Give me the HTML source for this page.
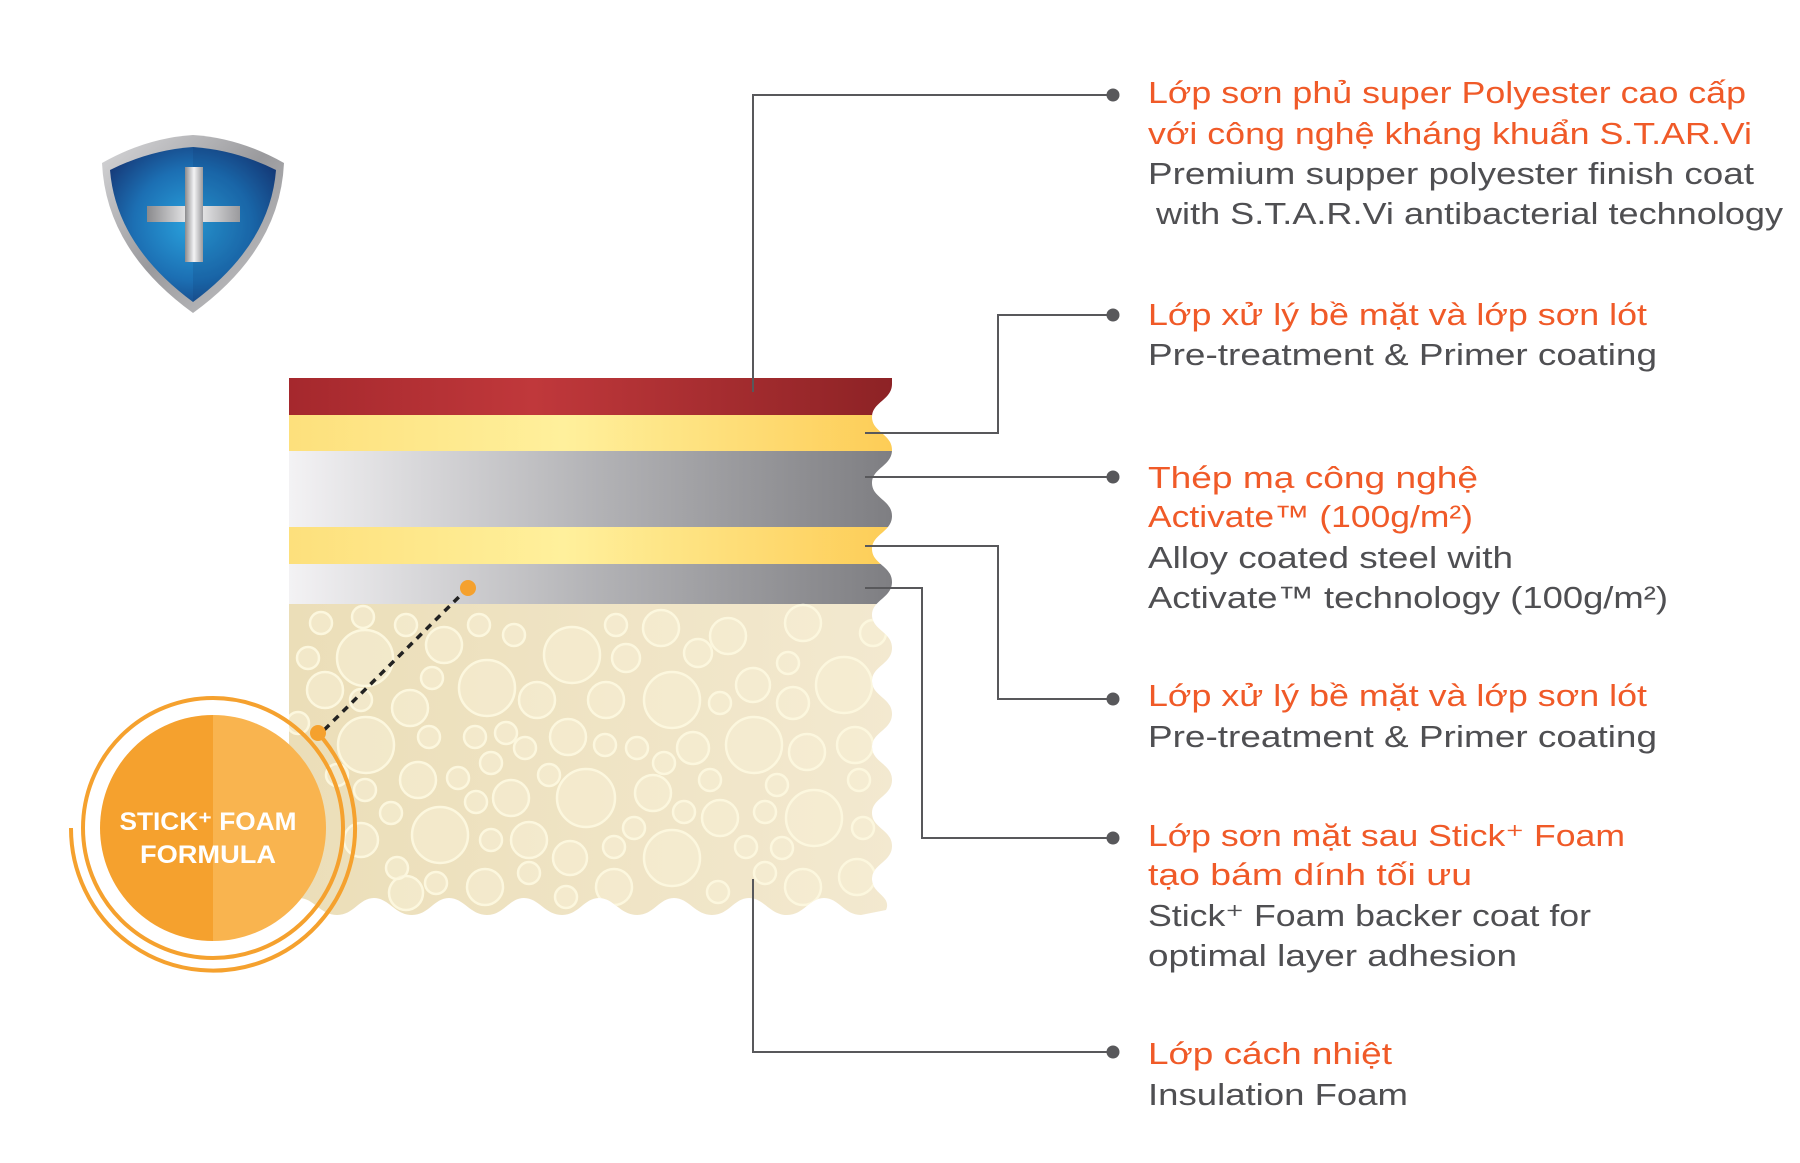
<!DOCTYPE html>
<html><head><meta charset="utf-8"><style>
html,body{margin:0;padding:0;background:#fff;}
svg{display:block;}
.o{fill:#f05a28;font-family:"Liberation Sans",sans-serif;font-size:31px;}
.g{fill:#4f4f52;font-family:"Liberation Sans",sans-serif;font-size:31px;}
</style></head><body>
<svg width="1800" height="1163" viewBox="0 0 1800 1163" xmlns="http://www.w3.org/2000/svg">
<defs>
<linearGradient id="red" x1="0" x2="1"><stop offset="0" stop-color="#a5282d"/><stop offset="0.4" stop-color="#c0383b"/><stop offset="1" stop-color="#8c2225"/></linearGradient>
<linearGradient id="yel" x1="0" x2="1"><stop offset="0" stop-color="#fde07c"/><stop offset="0.45" stop-color="#fff09c"/><stop offset="1" stop-color="#fdcc55"/></linearGradient>
<linearGradient id="gry" x1="0" x2="1"><stop offset="0" stop-color="#f3f2f4"/><stop offset="0.5" stop-color="#b3b3b6"/><stop offset="1" stop-color="#7d7d81"/></linearGradient>
<linearGradient id="foam" x1="0" x2="1"><stop offset="0" stop-color="#ebdeb8"/><stop offset="1" stop-color="#f3e9d0"/></linearGradient>
<radialGradient id="blue" cx="0.5" cy="0.5" r="0.6"><stop offset="0" stop-color="#2aa3de"/><stop offset="0.6" stop-color="#1c6fb3"/><stop offset="1" stop-color="#163d7c"/></radialGradient>
<linearGradient id="rim" x1="0" x2="1" y1="0" y2="1"><stop offset="0" stop-color="#d8d8da"/><stop offset="0.5" stop-color="#9a9a9d"/><stop offset="1" stop-color="#c8c8ca"/></linearGradient>
<linearGradient id="crs" x1="0" x2="1"><stop offset="0" stop-color="#8a8a8d"/><stop offset="0.5" stop-color="#f4f4f5"/><stop offset="1" stop-color="#9a9a9d"/></linearGradient>
<clipPath id="panel">
<path d="M289,378 L892,378 L892,384
C892,400 872,402 872,417 C872,432 892,434 892,450
C892,466 872,468 872,483 C872,498 892,500 892,516
C892,532 872,534 872,549 C872,564 892,566 892,582
C892,598 872,600 872,615 C872,630 892,632 892,648
C892,664 872,666 872,681 C872,696 892,698 892,714
C892,730 872,732 872,747 C872,762 892,764 892,780
C892,796 872,798 872,813 C872,828 892,830 892,846
C892,862 872,864 872,879 C872,894 892,896 886,910
L861,915 C844,915 839,898 824,898 C809,898 804,915 787,915
C770,915 764,898 749,898 C734,898 729,915 712,915
C695,915 689,898 674,898 C659,898 654,915 637,915
C620,915 614,898 599,898 C584,898 579,915 562,915
C545,915 539,898 524,898 C509,898 504,915 487,915
C470,915 464,898 449,898 C434,898 429,915 412,915
C395,915 389,898 374,898 C359,898 354,915 337,915
C320,915 314,898 299,898 L289,898 Z"/>
</clipPath>
</defs>

<!-- shield -->
<path d="M193,135 Q240,138 284,163 Q280,250 193,313 Q106,250 102,163 Q146,138 193,135Z" fill="url(#rim)"/>
<path d="M193,147 Q236,150 276,170 Q270,245 193,302 Q116,245 110,170 Q150,150 193,147Z" fill="url(#blue)"/>
<path d="M193,147 Q236,150 276,170 Q270,245 193,302Z" fill="#0c2f66" opacity="0.15"/>
<rect x="147" y="206" width="93" height="16" fill="url(#crs)"/>
<rect x="185" y="167" width="18" height="95" fill="url(#crs)"/>

<!-- panel -->
<g clip-path="url(#panel)">
<rect x="289" y="370" width="610" height="46" fill="url(#red)"/>
<rect x="289" y="415" width="610" height="36" fill="url(#yel)"/>
<rect x="289" y="451" width="610" height="76" fill="url(#gry)"/>
<rect x="289" y="527" width="610" height="37" fill="url(#yel)"/>
<rect x="289" y="564" width="610" height="40" fill="url(#gry)"/>
<rect x="289" y="604" width="610" height="320" fill="url(#foam)"/>
<g fill="#f6eed3" fill-opacity="0.6" stroke="#fcf7de" stroke-width="2.5">
<circle cx="365" cy="658" r="28"/><circle cx="572" cy="655" r="28"/><circle cx="487" cy="688" r="28"/><circle cx="672" cy="700" r="28"/><circle cx="844" cy="685" r="28"/><circle cx="366" cy="745" r="28"/><circle cx="754" cy="745" r="28"/><circle cx="586" cy="798" r="29"/><circle cx="440" cy="835" r="28"/><circle cx="672" cy="858" r="28"/><circle cx="814" cy="818" r="28"/>
<circle cx="444" cy="645" r="18"/><circle cx="728" cy="636" r="18"/><circle cx="661" cy="628" r="18"/><circle cx="537" cy="700" r="18"/><circle cx="606" cy="700" r="18"/><circle cx="325" cy="690" r="18"/><circle cx="410" cy="708" r="18"/><circle cx="568" cy="737" r="18"/><circle cx="693" cy="748" r="16"/><circle cx="807" cy="752" r="18"/><circle cx="855" cy="745" r="18"/><circle cx="418" cy="780" r="18"/><circle cx="511" cy="798" r="18"/><circle cx="653" cy="793" r="18"/><circle cx="720" cy="818" r="18"/><circle cx="529" cy="840" r="18"/><circle cx="570" cy="858" r="17"/><circle cx="753" cy="685" r="17"/><circle cx="793" cy="703" r="16"/><circle cx="485" cy="887" r="18"/><circle cx="614" cy="887" r="18"/><circle cx="803" cy="887" r="18"/><circle cx="857" cy="877" r="18"/><circle cx="803" cy="623" r="18"/><circle cx="361" cy="840" r="17"/><circle cx="406" cy="893" r="17"/>
<circle cx="321" cy="623" r="11"/><circle cx="363" cy="617" r="11"/><circle cx="406" cy="625" r="11"/><circle cx="479" cy="625" r="11"/><circle cx="514" cy="635" r="11"/><circle cx="616" cy="625" r="11"/><circle cx="626" cy="658" r="14"/><circle cx="698" cy="653" r="14"/><circle cx="788" cy="663" r="11"/><circle cx="873" cy="633" r="13"/><circle cx="308" cy="658" r="11"/><circle cx="432" cy="678" r="11"/><circle cx="720" cy="703" r="11"/><circle cx="361" cy="700" r="11"/><circle cx="429" cy="737" r="11"/><circle cx="475" cy="737" r="11"/><circle cx="506" cy="733" r="11"/><circle cx="525" cy="748" r="11"/><circle cx="605" cy="745" r="11"/><circle cx="637" cy="748" r="11"/><circle cx="664" cy="763" r="11"/><circle cx="491" cy="763" r="11"/><circle cx="549" cy="775" r="11"/><circle cx="458" cy="778" r="11"/><circle cx="710" cy="780" r="11"/><circle cx="777" cy="785" r="11"/><circle cx="859" cy="780" r="11"/><circle cx="365" cy="790" r="11"/><circle cx="391" cy="813" r="11"/><circle cx="476" cy="802" r="11"/><circle cx="684" cy="812" r="11"/><circle cx="765" cy="812" r="11"/><circle cx="634" cy="828" r="11"/><circle cx="491" cy="840" r="11"/><circle cx="614" cy="847" r="11"/><circle cx="746" cy="847" r="11"/><circle cx="782" cy="848" r="11"/><circle cx="863" cy="828" r="11"/><circle cx="397" cy="868" r="11"/><circle cx="436" cy="883" r="11"/><circle cx="529" cy="873" r="11"/><circle cx="566" cy="897" r="11"/><circle cx="718" cy="892" r="11"/><circle cx="765" cy="873" r="11"/><circle cx="298" cy="723" r="11"/><circle cx="337" cy="775" r="11"/>
</g>
</g>

<!-- connectors -->
<g fill="none" stroke="#58585b" stroke-width="2">
<polyline points="1112,95 753,95 753,392"/>
<polyline points="1112,315 998,315 998,433 865,433"/>
<polyline points="1112,477 865,477"/>
<polyline points="1112,699 998,699 998,546 865,546"/>
<polyline points="1112,838 922,838 922,588 865,588"/>
<polyline points="1112,1052 753,1052 753,879"/>
</g>
<g fill="#58585b">
<circle cx="1113" cy="95" r="6.5"/><circle cx="1113" cy="315" r="6.5"/><circle cx="1113" cy="477" r="6.5"/><circle cx="1113" cy="699" r="6.5"/><circle cx="1113" cy="838" r="6.5"/><circle cx="1113" cy="1052" r="6.5"/>
</g>

<!-- badge -->
<line x1="468" y1="588" x2="318" y2="736" stroke="#222" stroke-width="3.5" stroke-dasharray="7,6"/>
<circle cx="468" cy="588" r="8" fill="#f5a12e"/>
<circle cx="213" cy="828" r="130" fill="none" stroke="#f5a12e" stroke-width="4"/>
<path d="M318,733 A142,142 0 1 1 71,828" fill="none" stroke="#f5a12e" stroke-width="4"/>
<circle cx="318" cy="733" r="8" fill="#f5a12e"/>
<path d="M213,715 A113,113 0 0 0 213,941 Z" fill="#f5a12e"/>
<path d="M213,715 A113,113 0 0 1 213,941 Z" fill="#f9b44f"/>
<text x="208" y="830" text-anchor="middle" fill="#fff" font-family="Liberation Sans,sans-serif" font-weight="bold" font-size="25" textLength="177" lengthAdjust="spacingAndGlyphs">STICK⁺ FOAM</text>
<text x="208" y="863" text-anchor="middle" fill="#fff" font-family="Liberation Sans,sans-serif" font-weight="bold" font-size="25" textLength="136" lengthAdjust="spacingAndGlyphs">FORMULA</text>

<!-- labels -->
<text class="o" x="1148" y="103" textLength="598" lengthAdjust="spacingAndGlyphs">Lớp sơn phủ super Polyester cao cấp</text>
<text class="o" x="1148" y="144" textLength="604" lengthAdjust="spacingAndGlyphs">với công nghệ kháng khuẩn S.T.AR.Vi</text>
<text class="g" x="1148" y="184" textLength="606" lengthAdjust="spacingAndGlyphs">Premium supper polyester finish coat</text>
<text class="g" x="1156" y="224" textLength="627" lengthAdjust="spacingAndGlyphs">with S.T.A.R.Vi antibacterial technology</text>

<text class="o" x="1148" y="325" textLength="499" lengthAdjust="spacingAndGlyphs">Lớp xử lý bề mặt và lớp sơn lót</text>
<text class="g" x="1148" y="365" textLength="509" lengthAdjust="spacingAndGlyphs">Pre-treatment &amp; Primer coating</text>

<text class="o" x="1148" y="488" textLength="330" lengthAdjust="spacingAndGlyphs">Thép mạ công nghệ</text>
<text class="o" x="1148" y="527" textLength="325" lengthAdjust="spacingAndGlyphs">Activate™ (100g/m²)</text>
<text class="g" x="1148" y="568" textLength="365" lengthAdjust="spacingAndGlyphs">Alloy coated steel with</text>
<text class="g" x="1148" y="608" textLength="520" lengthAdjust="spacingAndGlyphs">Activate™ technology (100g/m²)</text>

<text class="o" x="1148" y="706" textLength="499" lengthAdjust="spacingAndGlyphs">Lớp xử lý bề mặt và lớp sơn lót</text>
<text class="g" x="1148" y="747" textLength="509" lengthAdjust="spacingAndGlyphs">Pre-treatment &amp; Primer coating</text>

<text class="o" x="1148" y="846" textLength="477" lengthAdjust="spacingAndGlyphs">Lớp sơn mặt sau Stick⁺ Foam</text>
<text class="o" x="1148" y="885" textLength="324" lengthAdjust="spacingAndGlyphs">tạo bám dính tối ưu</text>
<text class="g" x="1148" y="926" textLength="443" lengthAdjust="spacingAndGlyphs">Stick⁺ Foam backer coat for</text>
<text class="g" x="1148" y="966" textLength="369" lengthAdjust="spacingAndGlyphs">optimal layer adhesion</text>

<text class="o" x="1148" y="1064" textLength="244" lengthAdjust="spacingAndGlyphs">Lớp cách nhiệt</text>
<text class="g" x="1148" y="1105" textLength="260" lengthAdjust="spacingAndGlyphs">Insulation Foam</text>
</svg>
</body></html>
